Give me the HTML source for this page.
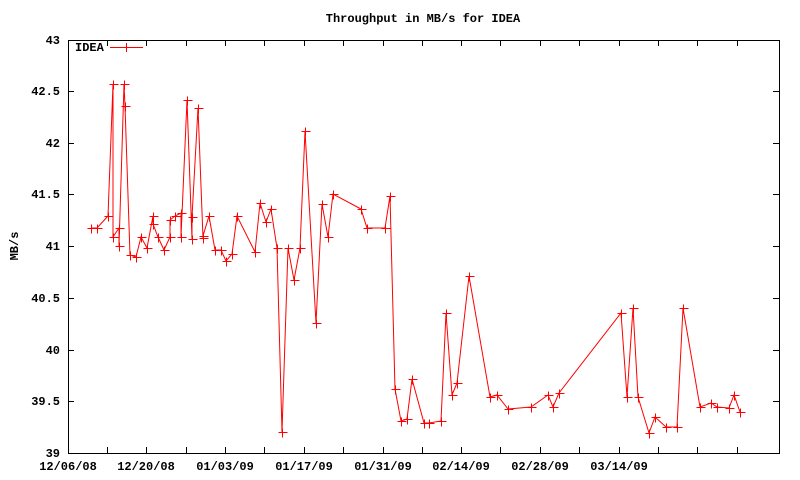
<!DOCTYPE html>
<html><head><meta charset="utf-8"><style>
html,body{margin:0;padding:0;background:#fff}
svg{display:block}
text{font-family:"Liberation Mono",monospace;font-size:12px;font-weight:bold;fill:#000}
</style></head><body>
<svg width="800" height="480" xmlns="http://www.w3.org/2000/svg">
<rect width="800" height="480" fill="#fff"/>
<text x="423" y="22" text-anchor="middle">Throughput in MB/s for IDEA</text>
<text transform="translate(18,246) rotate(-90)" text-anchor="middle">MB/s</text>
<g text-anchor="end">
<text x="60" y="44">43</text>
<text x="60" y="95">42.5</text>
<text x="60" y="147">42</text>
<text x="60" y="198">41.5</text>
<text x="60" y="250">41</text>
<text x="60" y="302">40.5</text>
<text x="60" y="354">40</text>
<text x="60" y="405">39.5</text>
<text x="60" y="457">39</text>
</g>
<g text-anchor="middle">
<text x="68" y="470">12/06/08</text>
<text x="146" y="470">12/20/08</text>
<text x="225" y="470">01/03/09</text>
<text x="304" y="470">01/17/09</text>
<text x="383" y="470">01/31/09</text>
<text x="461" y="470">02/14/09</text>
<text x="540" y="470">02/28/09</text>
<text x="619" y="470">03/14/09</text>
</g>
<g stroke="#000" stroke-width="1" fill="none">
<rect x="68.5" y="40.5" width="711" height="413"/>
<path d="M68 91.5h6M779 91.5h-6M68 143.5h6M779 143.5h-6M68 194.5h6M779 194.5h-6M68 246.5h6M779 246.5h-6M68 298.5h6M779 298.5h-6M68 350.5h6M779 350.5h-6M68 401.5h6M779 401.5h-6"/>
<path d="M107.5 453v-6M107.5 40v6M146.5 453v-6M146.5 40v6M186.5 453v-6M186.5 40v6M225.5 453v-6M225.5 40v6M264.5 453v-6M264.5 40v6M304.5 453v-6M304.5 40v6M343.5 453v-6M343.5 40v6M383.5 453v-6M383.5 40v6M422.5 453v-6M422.5 40v6M461.5 453v-6M461.5 40v6M500.5 453v-6M500.5 40v6M540.5 453v-6M540.5 40v6M579.5 453v-6M579.5 40v6M619.5 453v-6M619.5 40v6M658.5 453v-6M658.5 40v6M697.5 453v-6M697.5 40v6M737.5 453v-6M737.5 40v6"/>
</g>
<text x="75" y="51">IDEA</text>
<path d="M110 47.5h33M126.5 43v9M122 47.5h9" stroke="#f00" fill="none"/>
<polyline id="d" fill="none" stroke="#f00" stroke-width="1" points="91,228 97,228 108,216 113,84 113,237 119,228 119,246 124,84 125,106 130,255 136,257 141,237 147,248 153,216 153,224 158,237 164,250 170,237 170,220 175,216 181,213 181,237 187,100 192,239 192,217 198,108 203,238 203,236 209,216 215,250 221,250 226,261 232,254 237,216 255,252 260,203 266,222 271,209 277,248 282,432 288,248 294,280 300,248 305,131 316,323 322,204 328,237 333,194 361,209 367,228 385,228 390,196 395,389 401,421 407,419 412,379 424,423 429,423 441,421 446,313 452,395 457,383 469,276 490,397 497,395 508,409 531,407 548,395 553,407 559,393 621,313 627,397 633,308 638,397 649,433 655,417 666,427 677,427 683,308 700,407 711,403 717,407 729,408 734,395 740,412"/>
<g stroke="#f00" fill="none" id="m"></g>
<script>
var p=document.getElementById('d').getAttribute('points').trim().split(/\s+/),d='';
p.forEach(function(s){var a=s.split(',');var x=+a[0]+.5,y=+a[1]+.5;d+='M'+(x-4)+' '+y+'h9M'+x+' '+(y-4)+'v9';});
var e=document.createElementNS('http://www.w3.org/2000/svg','path');e.setAttribute('d',d);document.getElementById('m').appendChild(e);
</script>
</svg>
</body></html>
